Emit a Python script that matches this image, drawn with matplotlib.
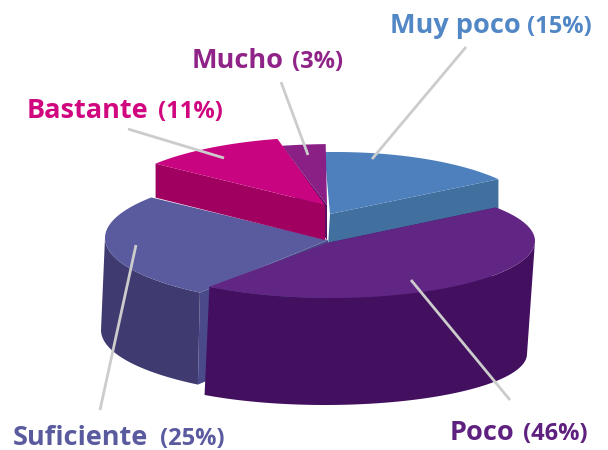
import numpy as np
import matplotlib.pyplot as plt

# data
categories = ['Muy poco', 'Poco', 'Suficiente', 'Bastante', 'Mucho']
percent = [15, 46, 25, 11, 3]

# colours per slice
top_colors = ['#4d80bd', '#612683', '#5a5a9f', '#c90480', '#8a2085']
wall_colors = ['#41709f', '#43105f', '#3f3a70', '#a0005f', '#5a0f60']
text_colors = ['#5287c6', '#5f2180', '#5a5a9f', '#d0077f', '#8f2387']

# hand fitted ellipse for every slice: top cx, cy, rx, ry, bottom cx, cy, rx, ry
shape = {
    'Muy poco': (335, 218, 202, 66, 335, 250, 202, 66),
    'Poco': (331, 241, 204, 57, 325, 354, 202, 51),
    'Suficiente': (340, 238, 235, 68, 341, 330, 240, 68),
    'Bastante': (329, 203, 216, 66, 329, 237, 216, 66),
    'Mucho': (338, 205, 235, 61, 338, 240, 235, 61),
}
# inner tip of each slice: top and bottom point
apex = {
    'Muy poco': ((330, 214), (328, 247)),
    'Poco': ((327, 243), (327, 350)),
    'Suficiente': ((328, 240), (328, 330)),
    'Bastante': ((325, 205), (325, 240)),
    'Mucho': ((327, 205), (327, 240)),
}
draw_order = ['Muy poco', 'Mucho', 'Suficiente', 'Bastante', 'Poco']

# label x, baseline y, x of the percent part
label_pos = {
    'Muy poco': (390, 33, 527),
    'Poco': (450, 440, 523),
    'Suficiente': (13, 445, 160),
    'Bastante': (27, 118, 158),
    'Mucho': (192, 68, 292),
}
leaders = {
    'Muy poco': ((466, 47), (372, 159)),
    'Poco': ((510, 400), (411, 280)),
    'Suficiente': ((100, 410), (136, 245)),
    'Bastante': ((128, 129), (224, 158)),
    'Mucho': ((281, 82), (308, 155)),
}

plt.rcParams['font.family'] = ['Open Sans', 'DejaVu Sans']

fig = plt.figure(figsize=(6.08, 4.5), dpi=100)
ax = fig.add_axes([0, 0, 1, 1])
ax.set_xlim(0, 608)
ax.set_ylim(450, 0)
ax.axis('off')

# slice angles, clockwise from the top
edges = np.cumsum([0] + percent) * 3.6 - 3
edges[1] += 3  # picture has this cut a bit further round
angles = {c: (edges[i], edges[i + 1]) for i, c in enumerate(categories)}


def arc(cx, cy, rx, ry, a, b):
    t = np.radians(np.linspace(a, b, 80))
    return cx + rx * np.sin(t), cy - ry * np.cos(t)


for name in draw_order:
    i = categories.index(name)
    a, b = angles[name]
    cx, cy, rx, ry, cx2, cy2, rx2, ry2 = shape[name]
    tip_top, tip_bot = apex[name]

    # cut face on the side towards the viewer
    cut = b if name == 'Muy poco' else a
    x1, y1 = arc(cx, cy, rx, ry, cut, cut)
    x2, y2 = arc(cx2, cy2, rx2, ry2, cut, cut)
    ax.fill([tip_top[0], x1[0], x2[0], tip_bot[0]], [tip_top[1], y1[0], y2[0], tip_bot[1]],
            color=wall_colors[i] if name != 'Suficiente' else '#4a4a8a', lw=0)

    # outer wall, front half only
    lo, hi = max(a, 90), min(b, 270)
    if lo < hi:
        xt, yt = arc(cx, cy, rx, ry, lo, hi)
        xb, yb = arc(cx2, cy2, rx2, ry2, lo, hi)
        ax.fill(np.r_[xt, xb[::-1]], np.r_[yt, yb[::-1]], color=wall_colors[i], lw=0)

    # top face
    xt, yt = arc(cx, cy, rx, ry, a, b)
    ax.fill(np.r_[tip_top[0], xt], np.r_[tip_top[1], yt], color=top_colors[i], lw=0)

# leader lines
for name in categories:
    p, q = leaders[name]
    ax.plot([p[0], q[0]], [p[1], q[1]], color='#cccccc', lw=2, solid_capstyle='butt')

# labels
for i, name in enumerate(categories):
    x, y, xp = label_pos[name]
    ax.text(x, y, name, color=text_colors[i], fontsize=19.5, fontweight='bold', va='baseline')
    ax.text(xp, y, '(%d%%)' % percent[i], color=text_colors[i], fontsize=17,
            fontweight='bold', va='baseline')

fig.savefig('out.png', dpi=100)
